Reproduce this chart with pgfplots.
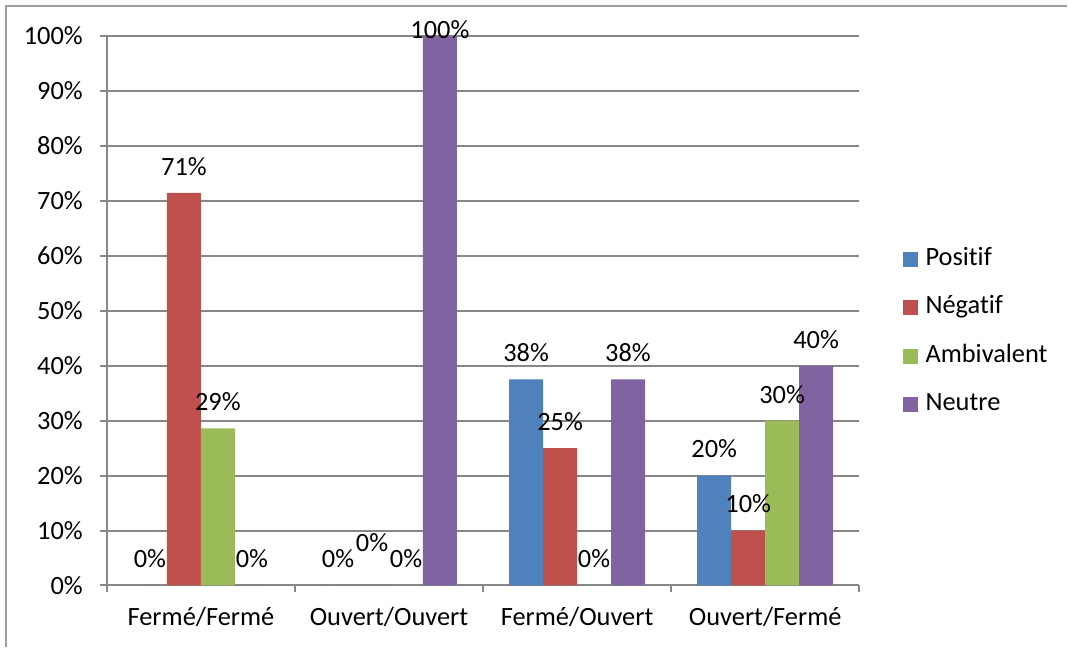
\documentclass[border=0pt]{standalone}
\usepackage{pgfplots}
\usepackage{pgfplotstable}
\pgfplotsset{compat=1.18}
\usepackage{fontspec}
\setmainfont{Carlito}[Ligatures=NoCommon]

\definecolor{cpos}{HTML}{4F81BD}
\definecolor{cneg}{HTML}{C0504D}
\definecolor{camb}{HTML}{9BBB59}
\definecolor{cneu}{HTML}{8064A2}
\definecolor{gridgray}{HTML}{878787}

% x y lab dy (extra label shift in pt)
\pgfplotstableread{
x y lab dy
0 0 0 0
1 0 0 0
2 37.5 38 0
3 20 20 0
}\positif
\pgfplotstableread{
x y lab dy
0 71.43 71 0
1 0 0 8
2 25 25 0
3 10 10 0
}\negatif
\pgfplotstableread{
x y lab dy
0 28.57 29 0
1 0 0 0
2 0 0 0
3 30 30 0
}\ambivalent
\pgfplotstableread{
x y lab dy
0 0 0 0
1 100 100 -10.25
2 37.5 38 0
3 40 40 0
}\neutre

\begin{document}
\fontsize{13.2}{15}\selectfont
\begin{tikzpicture}
\begin{axis}[
    scale only axis,
    width=376.5pt, height=275pt,
    xmin=-0.5, xmax=3.5, ymin=0, ymax=100,
    ybar=0pt, bar width=17pt,
    axis x line*=bottom, axis y line*=left,
    axis line style={draw=gridgray, line width=1pt},
    tick align=outside,
    major tick length=3.5pt, minor tick length=3.5pt,
    tick style={draw=gridgray, line width=1pt},
    xtick={0,1,2,3},
    xticklabels={Fermé/Fermé, Ouvert/Ouvert, Fermé/Ouvert, Ouvert/Fermé},
    xticklabel style={yshift=-3pt},
    major x tick style={draw=none},
    minor xtick={-0.5,0.5,1.5,2.5,3.5},
    ytick={0,10,...,100},
    yticklabel={\pgfmathprintnumber{\tick}\%},
    /pgf/number format/assume math mode=true,
    yticklabel style={xshift=-4pt},
    ymajorgrids,
    major grid style={draw=gridgray, line width=1pt},
    clip=false,
    point meta=explicit symbolic,
    nodes near coords={\pgfplotspointmeta\%},
    visualization depends on={\thisrow{dy} \as \dy},
    every node near coord/.append style={anchor=center, yshift=13.25pt+\dy pt, text=black},
    legend style={draw=none, at={(1,0.461)}, anchor=west, xshift=21.5pt,
        inner sep=0pt, row sep=9.25pt, cells={anchor=west},
        nodes={inner sep=1.5pt, text height=9pt, text depth=3pt},
        /tikz/every odd column/.style={column sep=2.5pt}},
    legend image code/.code={\fill[#1, draw=none] (0pt,-3.75pt) rectangle (7.5pt,3.75pt);},
]
\addplot[fill=cpos, draw=none] table[x=x, y=y, meta=lab] {\positif};
\addplot[fill=cneg, draw=none] table[x=x, y=y, meta=lab] {\negatif};
\addplot[fill=camb, draw=none] table[x=x, y=y, meta=lab] {\ambivalent};
\addplot[fill=cneu, draw=none] table[x=x, y=y, meta=lab] {\neutre};
\legend{Positif, Négatif, Ambivalent, Neutre}
\coordinate (O) at (rel axis cs:0,0);
\end{axis}
\draw[draw=gridgray!80, line width=1pt] ([shift={(-50.5pt,-31pt)}]O) -- ([shift={(-50.5pt,290pt)}]O) -- ([shift={(480.5pt,290pt)}]O);
\path[use as bounding box] ([shift={(-53.5pt,-31pt)}]O) rectangle ([shift={(480.5pt,293pt)}]O);
\end{tikzpicture}
\end{document}
